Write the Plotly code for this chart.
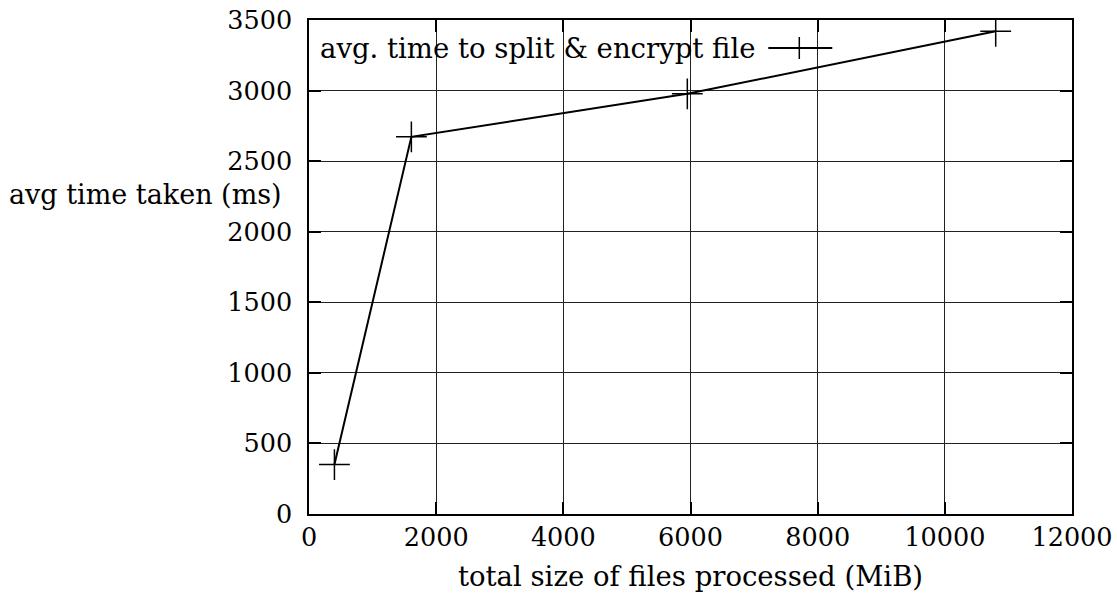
import plotly.graph_objects as go

sizes_mib = [400, 1610, 5950, 10800]
avg_time_ms = [350, 2672, 2977, 3420]
x_ticks = [0, 2000, 4000, 6000, 8000, 10000, 12000]
y_ticks = [0, 500, 1000, 1500, 2000, 2500, 3000, 3500]
series_name = "avg. time to split &amp; encrypt file"

FONT = "DejaVu Serif"
FS_TICK = 25.5
FS_TEXT = 27.5
FS_YTITLE = 27

W, H = 1117, 599
L, T = 308.7, 20
pw, ph = 763.0, 494.3
R, B = W - L - pw, H - T - ph

def px(xp):
    return (xp - L) / pw

def py(yp):
    return (T + ph - yp) / ph

fig = go.Figure()
fig.add_trace(go.Scatter(
    x=sizes_mib, y=avg_time_ms, mode="lines+markers",
    line=dict(color="black", width=2),
    marker=dict(symbol="cross-thin", size=22, line=dict(color="black", width=1.5)),
    showlegend=False,
))

axis_common = dict(
    showline=True, linecolor="black", linewidth=1.5, mirror="ticks",
    showgrid=True, gridcolor="#222222", gridwidth=1,
    ticks="inside", ticklen=12, tickwidth=1.5, tickcolor="black",
    zeroline=False, automargin=False, ticklabeloverflow="allow",
    tickfont=dict(family=FONT, size=FS_TICK, color="black"),
)

fig.update_xaxes(range=[0, 12000], tickvals=x_ticks, ticktext=[str(v) for v in x_ticks],
                 ticklabelstandoff=0,
                 title=dict(text="total size of files processed (MiB)",
                            font=dict(family=FONT, size=FS_TEXT, color="black"), standoff=15),
                 **axis_common)
fig.update_yaxes(range=[0, 3500], tickvals=y_ticks, ticktext=[str(v) for v in y_ticks],
                 ticklabelstandoff=10, **axis_common)

# y-axis label (horizontal, as in the original)
fig.add_annotation(text="avg time taken (ms)", xref="paper", yref="paper",
                   x=px(284), y=py(195), xanchor="right", yanchor="middle",
                   showarrow=False, font=dict(family=FONT, size=FS_YTITLE, color="black"))

# key (text on left, sample on right as in gnuplot)
key_y = py(48)
fig.add_annotation(text=series_name, xref="paper", yref="paper",
                   x=px(318), y=key_y, xanchor="left", yanchor="middle",
                   showarrow=False, font=dict(family=FONT, size=FS_TEXT, color="black"))
fig.add_shape(type="line", xref="paper", yref="paper",
              x0=px(768), x1=px(832), y0=key_y, y1=key_y,
              line=dict(color="black", width=2))
fig.add_shape(type="line", xref="paper", yref="paper",
              x0=px(799), x1=px(799), y0=py(37), y1=py(59),
              line=dict(color="black", width=1.5))

fig.update_layout(
    width=W, height=H,
    margin=dict(l=L, r=R, t=T, b=B),
    paper_bgcolor="white", plot_bgcolor="white",
    font=dict(family=FONT, size=FS_TEXT, color="black"),
)

fig.write_html("out.html", config={"displayModeBar": False},
               post_script="document.body.style.margin='0';document.body.style.overflow='hidden';")
